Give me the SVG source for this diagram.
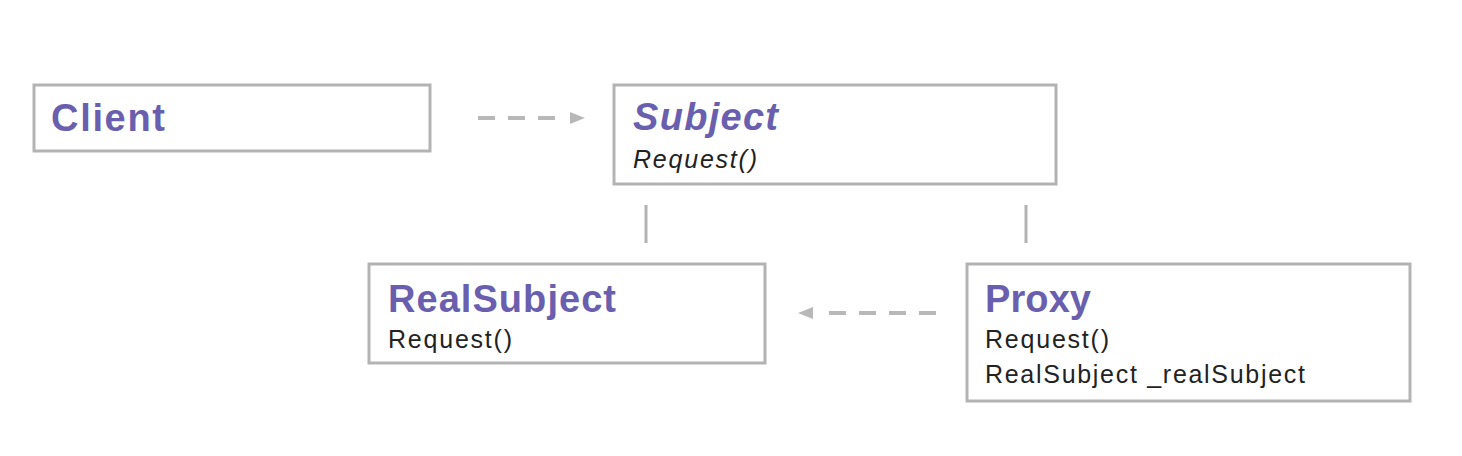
<svg xmlns="http://www.w3.org/2000/svg" width="1462" height="456" viewBox="0 0 1462 456">
  <style>
    .box { fill: #ffffff; stroke: #b3b3b3; stroke-width: 3; }
    .title { font-family: "Liberation Sans", Arial, sans-serif; font-weight: bold; font-size: 38px; fill: #6a5fae; }
    .member { font-family: "Liberation Sans", Arial, sans-serif; font-size: 25px; fill: #222222; }
    .italic { font-style: italic; }
    .dash { fill: none; stroke: #b8b8b8; stroke-width: 4; stroke-dasharray: 17 13; }
    .solid { fill: none; stroke: #b3b3b3; stroke-width: 3; }
  </style>
  <defs>
    <marker id="head" markerUnits="userSpaceOnUse" markerWidth="16" markerHeight="14" refX="-3" refY="6" orient="auto" overflow="visible">
      <path d="M0,0 L15,6 L0,12 z" fill="#b8b8b8"/>
    </marker>
  </defs>
  <rect width="1462" height="456" fill="#ffffff"/>

  <g id="connectors">
    <line class="dash" x1="478" y1="118" x2="567" y2="118" marker-end="url(#head)"/>
    <line class="dash" x1="936" y1="313" x2="816" y2="313" marker-end="url(#head)"/>
    <line class="solid" x1="646" y1="205" x2="646" y2="243"/>
    <line class="solid" x1="1026" y1="205" x2="1026" y2="243"/>
  </g>

  <g id="client">
    <rect class="box" x="34" y="85" width="396" height="66"/>
    <text class="title" x="51" y="131" textLength="114" lengthAdjust="spacing">Client</text>
  </g>

  <g id="subject">
    <rect class="box" x="614" y="85" width="442" height="99"/>
    <text class="title italic" x="633" y="130" textLength="145" lengthAdjust="spacing">Subject</text>
    <text class="member italic" x="633" y="168" textLength="124" lengthAdjust="spacing">Request()</text>
  </g>

  <g id="realsubject">
    <rect class="box" x="369" y="264" width="396" height="99"/>
    <text class="title" x="388" y="312" textLength="228" lengthAdjust="spacing">RealSubject</text>
    <text class="member" x="388" y="348" textLength="124" lengthAdjust="spacing">Request()</text>
  </g>

  <g id="proxy">
    <rect class="box" x="967" y="264" width="443" height="137"/>
    <text class="title" x="985" y="312" textLength="106" lengthAdjust="spacing">Proxy</text>
    <text class="member" x="985" y="348" textLength="124" lengthAdjust="spacing">Request()</text>
    <text class="member" x="985" y="383" textLength="320" lengthAdjust="spacing">RealSubject _realSubject</text>
  </g>
</svg>
